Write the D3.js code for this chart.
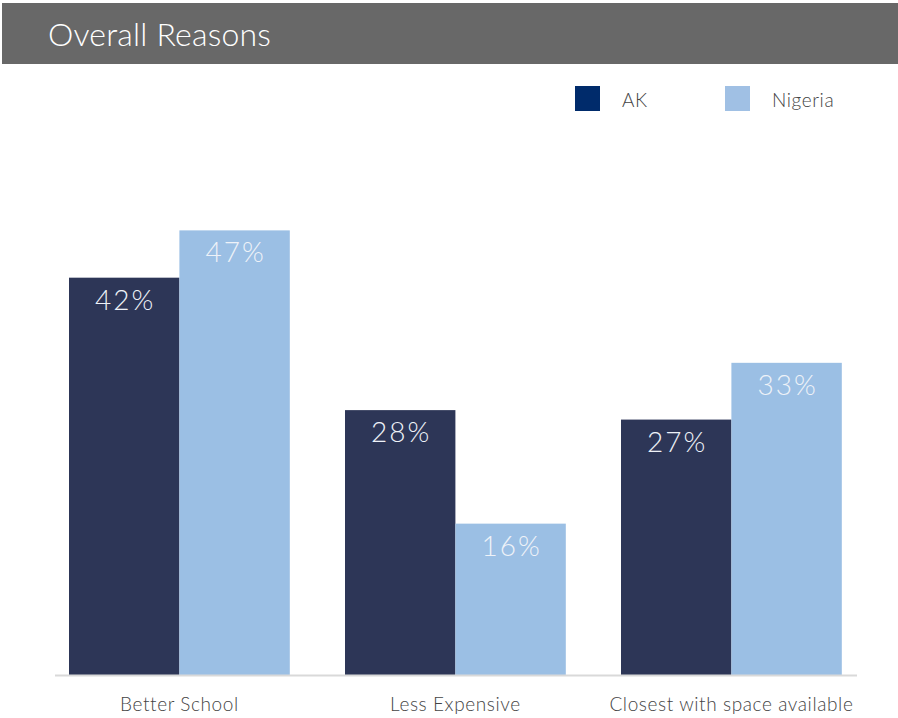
<!DOCTYPE html>
<html>
<head>
<meta charset="utf-8">
<script src="https://cdn.jsdelivr.net/npm/d3@7"></script>
<style>
  html, body { margin: 0; padding: 0; background: #fff; }
  svg { display: block; }
  text { font-family: Lato, "Open Sans", sans-serif; }
</style>
</head>
<body>
<svg id="chart" width="898" height="718"></svg>
<script>
const title = "Overall Reasons";
const categories = ["Better School", "Less Expensive", "Closest with space available"];
const seriesNames = ["AK", "Nigeria"];
const akValues = [42, 28, 27];
const nigeriaValues = [47, 16, 33];
const legendColors = ["#002b6b", "#a0c0e4"];
const barColors = ["#2d3657", "#9bbfe4"];

const svg = d3.select("#chart");
const W = 898, H = 718;

// Title bar
svg.append("rect").attr("x", 2).attr("y", 3).attr("width", W - 2).attr("height", 61).attr("fill", "#686868");
svg.append("text").attr("x", 48).attr("y", 46).attr("fill", "#fff")
  .style("font-size", "32px").style("font-weight", 300).style("letter-spacing", "0.2px").text(title);

// Legend
const legendX = [575, 725];
seriesNames.forEach((name, i) => {
  svg.append("rect").attr("x", legendX[i]).attr("y", 86).attr("width", 25).attr("height", 25).attr("fill", legendColors[i]);
  svg.append("text").attr("x", legendX[i] + 47).attr("y", 107).attr("fill", "#444")
    .style("font-size", "19px").style("font-weight", 300).style("letter-spacing", "0.6px").text(name);
});

// Scales
const baseY = 675;
const y = d3.scaleLinear().domain([0, 50]).range([baseY, baseY - 473]);
const x0 = d3.scaleBand().domain(categories).range([41.4, 869.4]).paddingInner(0.2).paddingOuter(0.1);
const x1 = d3.scaleBand().domain(seriesNames).range([0, x0.bandwidth()]);

const data = categories.map((c, i) => ({ cat: c, vals: [akValues[i], nigeriaValues[i]] }));

const groups = svg.append("g").selectAll("g").data(data).join("g")
  .attr("transform", d => `translate(${x0(d.cat)},0)`);

groups.selectAll("rect").data(d => d.vals.map((v, j) => ({ v, s: seriesNames[j], j })))
  .join("rect")
  .attr("x", d => x1(d.s))
  .attr("y", d => y(d.v))
  .attr("width", x1.bandwidth())
  .attr("height", d => baseY - y(d.v))
  .attr("fill", d => barColors[d.j]);

groups.selectAll("text.val").data(d => d.vals.map((v, j) => ({ v, s: seriesNames[j], j })))
  .join("text").attr("class", "val")
  .attr("x", d => x1(d.s) + x1.bandwidth() / 2 + 1)
  .attr("y", d => y(d.v) + 32)
  .attr("text-anchor", "middle")
  .attr("fill", "#eef2f8")
  .style("font-size", "28px").style("font-weight", 300).style("letter-spacing", "2px")
  .text(d => d.v + "%");

// Baseline axis
const xAxis = d3.axisBottom(x0).tickSize(0).tickPadding(0);
const axisG = svg.append("g").attr("transform", `translate(0,${baseY})`).call(xAxis);
axisG.select(".domain").remove();
svg.append("line").attr("x1", 55).attr("x2", 857).attr("y1", baseY + 0.5).attr("y2", baseY + 0.5)
  .attr("stroke", "#d9d9d9").attr("stroke-width", 2);
axisG.selectAll("text").attr("y", 36).attr("dy", 0)
  .attr("fill", "#444").style("font-size", "19px").style("font-weight", 300)
  .style("letter-spacing", "0.6px")
  .style("font-family", "Lato, sans-serif");
</script>
</body>
</html>
